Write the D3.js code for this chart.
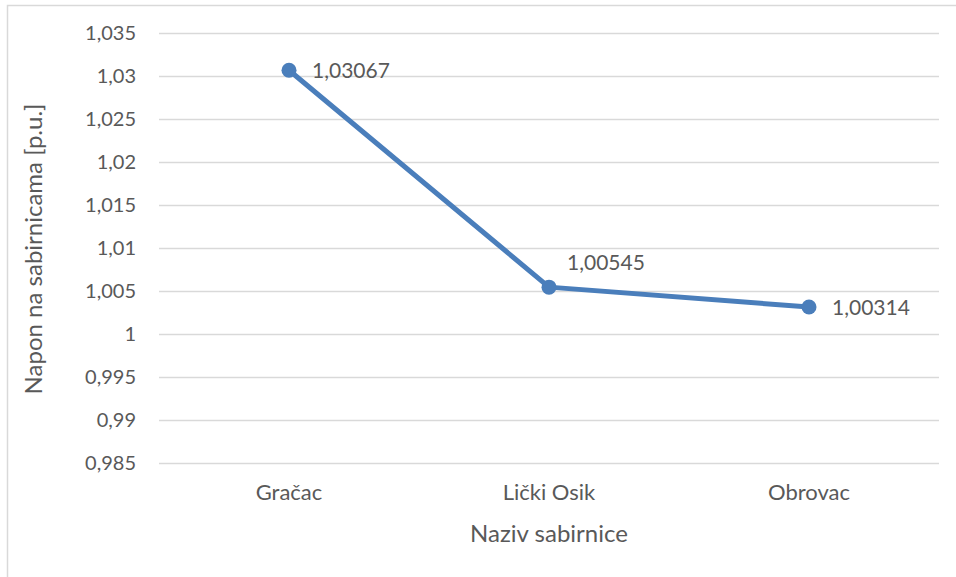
<!DOCTYPE html>
<html>
<head>
<meta charset="utf-8">
<script src="https://cdn.jsdelivr.net/npm/d3@7"></script>
<style>
  body { margin: 0; background: #fff; }
  text { font-family: Lato, "Open Sans", sans-serif; fill: #595959; }
</style>
</head>
<body>
<svg id="chart" width="956" height="577"></svg>
<script>
var categories = ["Gračac", "Lički Osik", "Obrovac"];
var values = [1.03067, 1.00545, 1.00314];
var labels = ["1,03067", "1,00545", "1,00314"];
var yTicks = [0.985, 0.99, 0.995, 1, 1.005, 1.01, 1.015, 1.02, 1.025, 1.03, 1.035];
// label offsets: which side of the point each data label goes
var labelPos = ["right", "above", "right"];

var svg = d3.select("#chart");
var plotLeft = 159, plotRight = 939, plotTop = 33, plotBottom = 463;

// outer chart border
svg.append("rect")
    .attr("x", 7.5).attr("y", 5.5)
    .attr("width", 960).attr("height", 580)
    .attr("fill", "none")
    .attr("stroke", "#d9d9d9")
    .attr("stroke-width", 1.5);

var x = d3.scaleBand()
    .domain(categories)
    .range([plotLeft, plotRight]);

var y = d3.scaleLinear()
    .domain([0.985, 1.035])
    .range([plotBottom, plotTop]);

var fmt = function(d){ return String(+d.toFixed(3)).replace(".", ","); };

// gridlines + y labels
var yAxis = svg.append("g")
    .attr("transform", "translate(" + plotLeft + ",0)")
    .call(d3.axisLeft(y).tickValues(yTicks).tickSize(-(plotRight - plotLeft)).tickPadding(23).tickFormat(fmt));
yAxis.select(".domain").remove();
yAxis.selectAll("line").attr("stroke", "#d9d9d9").attr("stroke-width", 1.3);
yAxis.selectAll("text")
    .attr("font-size", "20px")
    .attr("fill", "#595959")
    .attr("font-family", "Lato, 'Open Sans', sans-serif");

// x labels
var xAxis = svg.append("g")
    .attr("transform", "translate(0," + plotBottom + ")")
    .call(d3.axisBottom(x).tickSize(0).tickPadding(21));
xAxis.select(".domain").remove();
xAxis.selectAll("text")
    .attr("font-size", "22px")
    .attr("fill", "#595959")
    .attr("font-family", "Lato, 'Open Sans', sans-serif");

// axis titles
svg.append("text")
    .attr("transform", "translate(42," + 249 + ") rotate(-90)")
    .attr("text-anchor", "middle")
    .attr("font-size", "24px")
    .text("Napon na sabirnicama [p.u.]");
svg.append("text")
    .attr("x", (plotLeft + plotRight) / 2)
    .attr("y", 542)
    .attr("text-anchor", "middle")
    .attr("font-size", "24px")
    .text("Naziv sabirnice");

var pts = categories.map(function(c, i){
    return {cx: x(c) + x.bandwidth() / 2, cy: y(values[i]), label: labels[i], pos: labelPos[i]};
});

svg.append("path")
    .datum(pts)
    .attr("d", d3.line().x(function(d){ return d.cx; }).y(function(d){ return d.cy; }))
    .attr("fill", "none")
    .attr("stroke", "#4a7ebb")
    .attr("stroke-width", 5)
    .attr("stroke-linejoin", "round");

svg.selectAll("circle.pt")
    .data(pts)
    .enter()
    .append("circle")
    .attr("class", "pt")
    .attr("cx", function(d){ return d.cx; })
    .attr("cy", function(d){ return d.cy; })
    .attr("r", 7.5)
    .attr("fill", "#4a7ebb");

svg.selectAll("text.lbl")
    .data(pts)
    .enter()
    .append("text")
    .attr("class", "lbl")
    .attr("x", function(d){ return d.pos == "right" ? d.cx + 23 : d.cx + 18; })
    .attr("y", function(d){ return d.pos == "right" ? d.cy + 8 : d.cy - 17; })
    .attr("font-size", "21px")
    .attr("fill", "#404040")
    .text(function(d){ return d.label; });
</script>
</body>
</html>
